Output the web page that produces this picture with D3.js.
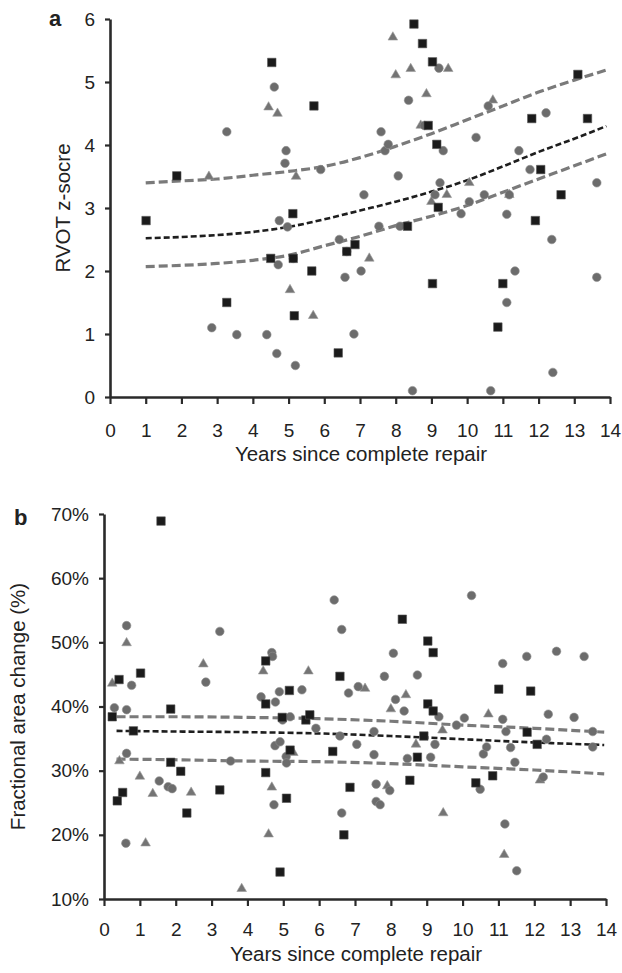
<!DOCTYPE html>
<html>
<head>
<meta charset="utf-8">
<script src="https://d3js.org/d3.v7.min.js"></script>
<style>
  body { margin: 0; background: #fff; }
  text { font-family: "Liberation Sans", Arial, sans-serif; fill: #222; }
</style>
</head>
<body>
<script>
// ---- panel a : RVOT z-score ----
var aSquares = [[1.01,2.80],[1.87,3.51],[3.27,1.50],[4.50,2.20],[4.53,5.31],[5.12,2.91],[5.13,2.20],[5.16,1.29],
  [5.65,2.00],[5.71,4.62],[6.39,0.70],[6.63,2.31],[6.86,2.42],[8.33,2.71],[8.51,5.92],[8.75,5.61],[8.91,4.31],
  [9.03,5.32],[9.03,1.80],[9.15,4.01],[9.19,3.01],[10.86,1.11],[11.0,1.80],[11.81,4.42],[11.91,2.80],[12.06,3.61],
  [12.63,3.21],[13.10,5.12],[13.37,4.42]];
var aCircles = [[2.85,1.10],[3.27,4.21],[3.55,0.99],[4.39,0.99],[4.60,4.92],[4.67,0.69],[4.71,2.10],[4.74,2.80],
  [4.90,3.71],[4.93,3.91],[4.97,2.70],[5.13,2.20],[5.19,0.50],[5.90,3.61],[6.42,2.50],[6.58,1.90],[6.63,2.31],
  [6.83,1.00],[7.03,2.00],[7.11,3.21],[7.53,2.71],[7.59,4.21],[7.70,3.91],[7.79,4.01],[8.07,3.51],[8.12,2.71],
  [8.36,4.71],[8.47,0.10],[8.80,4.31],[9.10,3.21],[9.21,5.22],[9.24,3.40],[9.33,3.91],[9.83,2.91],[10.06,3.10],
  [10.25,4.12],[10.48,3.21],[10.59,4.62],[10.66,0.10],[11.11,2.90],[11.11,1.50],[11.18,3.21],[11.34,2.00],
  [11.45,3.91],[11.76,3.61],[12.21,4.51],[12.37,2.50],[12.40,0.39],[13.63,3.40],[13.63,1.90]];
var aTriangles = [[2.77,3.50],[4.44,4.60],[4.69,4.50],[5.04,1.70],[5.21,3.50],[5.69,1.29],[7.26,2.20],[7.92,5.71],
  [8.00,5.11],[8.42,5.21],[8.70,4.31],[8.86,4.81],[9.00,3.10],[9.43,3.21],[9.47,5.21],[10.06,3.40],[10.72,4.71],
  [11.18,3.21]];
var aFitX = [1, 2, 3, 4, 5, 6, 7, 8, 9, 10, 11, 12, 13, 13.9];
var aFitMid = [2.52, 2.54, 2.57, 2.62, 2.70, 2.82, 2.96, 3.10, 3.26, 3.44, 3.66, 3.89, 4.10, 4.30];
var aFitUpper = [3.40, 3.43, 3.46, 3.52, 3.58, 3.66, 3.80, 3.98, 4.18, 4.40, 4.62, 4.84, 5.03, 5.19];
var aFitLower = [2.07, 2.09, 2.12, 2.17, 2.25, 2.40, 2.55, 2.72, 2.87, 3.04, 3.25, 3.46, 3.67, 3.86];
var aYTicks = [0, 1, 2, 3, 4, 5, 6];

// ---- panel b : fractional area change ----
var bSquares = [[0.23,38.4],[0.37,25.3],[0.42,44.2],[0.52,26.6],[0.82,36.2],[1.02,45.2],[1.59,68.9],[1.86,39.6],
  [1.86,31.3],[2.14,29.9],[2.31,23.4],[3.23,27.0],[4.51,47.1],[4.51,40.4],[4.51,29.7],[4.91,14.2],[4.97,38.3],
  [5.09,25.7],[5.17,42.5],[5.19,33.2],[5.63,37.9],[5.74,38.7],[6.38,33.0],[6.58,44.7],[6.69,20.0],[6.86,27.4],
  [8.32,53.6],[8.53,28.5],[8.74,32.1],[8.92,35.4],[9.03,50.2],[9.18,48.4],[9.03,40.4],[9.18,39.3],[10.37,28.1],
  [10.84,29.2],[11.01,42.7],[11.80,36.0],[11.90,42.4],[12.08,34.1]];
var bCircles = [[0.29,39.8],[0.61,18.7],[0.63,52.6],[0.63,39.5],[0.63,32.7],[0.77,43.3],[1.54,28.4],[1.79,27.5],
  [1.90,27.2],[2.84,43.8],[3.23,51.7],[3.53,31.5],[4.38,41.5],[4.68,48.4],[4.70,47.8],[4.74,24.7],[4.77,33.9],
  [4.78,40.7],[4.89,42.3],[4.91,34.5],[4.98,37.9],[5.08,32.2],[5.09,31.2],[5.19,38.4],[5.52,42.6],[5.91,36.6],
  [6.42,56.6],[6.58,35.4],[6.63,52.0],[6.63,23.4],[6.82,42.1],[7.05,34.1],[7.09,43.1],[7.53,36.1],[7.53,32.5],
  [7.59,27.9],[7.59,25.2],[7.70,24.7],[7.82,44.7],[7.97,26.9],[8.07,48.3],[8.13,41.1],[8.37,39.3],[8.46,31.9],
  [8.74,44.9],[9.11,32.1],[9.23,34.1],[9.34,38.4],[9.83,37.1],[10.05,38.2],[10.25,57.3],[10.49,27.1],[10.58,32.6],
  [10.67,33.7],[11.12,46.7],[11.12,38.0],[11.18,21.7],[11.21,36.1],[11.34,33.6],[11.46,31.3],[11.51,14.4],
  [11.79,47.8],[12.25,29.0],[12.34,34.9],[12.39,38.8],[12.62,48.6],[13.11,38.3],[13.39,47.8],[13.63,36.1],[13.63,33.7]];
var bTriangles = [[0.23,43.6],[0.43,31.5],[0.63,49.9],[1.00,29.1],[1.16,18.7],[1.36,26.4],[2.43,26.6],[2.77,46.6],
  [3.84,11.6],[4.44,45.5],[4.59,20.1],[4.68,27.4],[5.28,32.8],[5.70,45.5],[7.28,42.8],[7.90,27.6],[8.00,39.6],
  [8.42,41.8],[8.70,34.1],[9.44,36.3],[9.46,23.4],[10.72,38.8],[11.16,16.9],[12.16,28.5]];
var bFitX = [0.35, 2, 4, 6, 8, 10, 12, 13.95];
var bFitMid = [36.2, 36.1, 36.0, 35.8, 35.4, 34.9, 34.4, 34.0];
var bFitUpper = [38.4, 38.4, 38.3, 38.1, 37.7, 37.1, 36.6, 36.0];
var bFitLower = [31.8, 31.7, 31.5, 31.4, 31.1, 30.6, 30.1, 29.5];
var bYTicks = [10, 20, 30, 40, 50, 60, 70];

var xTicks = d3.range(0, 15);

var W = 622, H = 973;
var svg = d3.select("body").append("svg").attr("width", W).attr("height", H);

function zip(xs, ys) { return xs.map(function(x, i) { return [x, ys[i]]; }); }

function drawPanel(p) {
  var x = d3.scaleLinear().domain([0, 14]).range([p.left, p.right]);
  var y = d3.scaleLinear().domain(p.yDomain).range([p.bottom, p.top]);
  var g = svg.append("g");

  // fitted dashed curves
  var line = d3.line().x(function(d) { return x(d[0]); }).y(function(d) { return y(d[1]); })
    .curve(d3.curveMonotoneX);
  g.append("path").attr("d", line(zip(p.fitX, p.fitUpper)))
    .attr("fill", "none").attr("stroke", "#7a7a7a").attr("stroke-width", 3.2).attr("stroke-dasharray", "9,4");
  g.append("path").attr("d", line(zip(p.fitX, p.fitLower)))
    .attr("fill", "none").attr("stroke", "#7a7a7a").attr("stroke-width", 3.2).attr("stroke-dasharray", "9,4");
  g.append("path").attr("d", line(zip(p.fitX, p.fitMid)))
    .attr("fill", "none").attr("stroke", "#1e1e1e").attr("stroke-width", 2.6).attr("stroke-dasharray", "6,3");

  // markers
  var sq = d3.symbol().type(d3.symbolSquare).size(72);
  var ci = d3.symbol().type(d3.symbolCircle).size(58);
  var tr = d3.symbol().type(d3.symbolTriangle).size(40);
  g.selectAll("path.tri").data(p.triangles).enter().append("path").attr("class", "tri")
    .attr("d", tr).attr("transform", function(d) { return "translate(" + x(d[0]) + "," + y(d[1]) + ")"; })
    .attr("fill", "#747474").attr("stroke", "#9a9a9a").attr("stroke-width", 0.6);
  g.selectAll("path.cir").data(p.circles).enter().append("path").attr("class", "cir")
    .attr("d", ci).attr("transform", function(d) { return "translate(" + x(d[0]) + "," + y(d[1]) + ")"; })
    .attr("fill", "#6c6c6c").attr("stroke", "#8e8e8e").attr("stroke-width", 0.6);
  g.selectAll("path.sq").data(p.squares).enter().append("path").attr("class", "sq")
    .attr("d", sq).attr("transform", function(d) { return "translate(" + x(d[0]) + "," + y(d[1]) + ")"; })
    .attr("fill", "#1b1b1b").attr("stroke", "#555").attr("stroke-width", 0.6);

  // axes
  var xAxis = g.append("g").attr("transform", "translate(0," + p.bottom + ")")
    .call(d3.axisBottom(x).tickValues(xTicks).tickSize(7).tickSizeOuter(0).tickPadding(p.xPad));
  var yAxis = g.append("g").attr("transform", "translate(" + p.left + ",0)")
    .call(d3.axisLeft(y).tickValues(p.yTicks).tickSize(5).tickSizeOuter(0).tickPadding(10)
      .tickFormat(p.yFormat));
  [xAxis, yAxis].forEach(function(a) {
    a.select(".domain").attr("stroke", "#2a2a2a").attr("stroke-width", 2.6);
    a.selectAll(".tick line").attr("stroke", "#2a2a2a").attr("stroke-width", 2.2);
    a.selectAll(".tick text").attr("font-size", 19).attr("fill", "#222")
      .attr("font-family", "Liberation Sans, Arial, sans-serif");
  });

  g.append("text").attr("x", (p.left + p.right) / 2 + 1).attr("y", p.xTitleY)
    .attr("text-anchor", "middle").attr("font-size", 20.5).text("Years since complete repair");
  g.append("text").attr("transform", "translate(" + p.yTitleX + "," + ((p.top + p.bottom) / 2) + ") rotate(-90)")
    .attr("text-anchor", "middle").attr("font-size", 20.5).text(p.yTitle);
  g.append("text").attr("x", p.labelX).attr("y", p.labelY).attr("font-size", 22).attr("font-weight", "bold")
    .text(p.label);
}

drawPanel({
  left: 110, right: 610, top: 19, bottom: 397, yDomain: [0, 6], yTicks: aYTicks,
  yFormat: d3.format("d"), xPad: 20, xTitleY: 461, yTitleX: 70, yTitle: "RVOT z-socre",
  label: "a", labelX: 49, labelY: 26,
  squares: aSquares, circles: aCircles, triangles: aTriangles,
  fitX: aFitX, fitMid: aFitMid, fitUpper: aFitUpper, fitLower: aFitLower
});

drawPanel({
  left: 104, right: 606, top: 514, bottom: 899, yDomain: [10, 70], yTicks: bYTicks,
  yFormat: function(d) { return d + "%"; }, xPad: 17, xTitleY: 961, yTitleX: 25,
  yTitle: "Fractional area change (%)", label: "b", labelX: 14, labelY: 525,
  squares: bSquares, circles: bCircles, triangles: bTriangles,
  fitX: bFitX, fitMid: bFitMid, fitUpper: bFitUpper, fitLower: bFitLower
});
</script>
</body>
</html>
